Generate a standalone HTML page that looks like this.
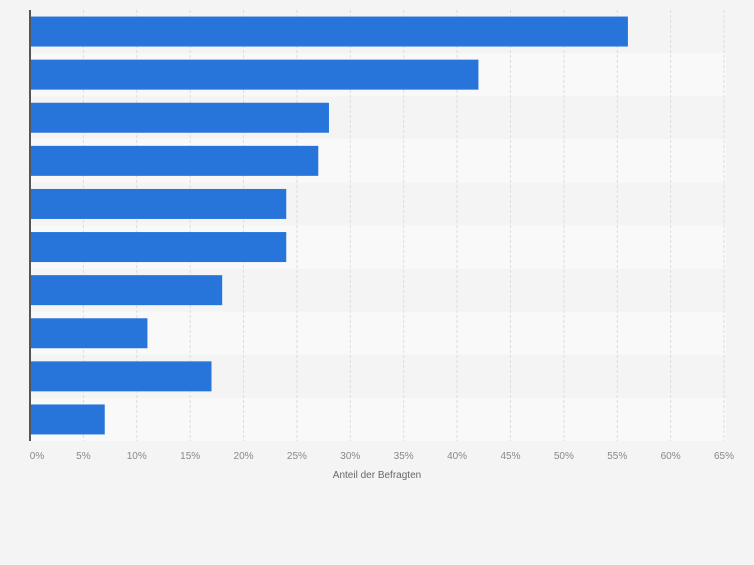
<!DOCTYPE html>
<html><head><meta charset="utf-8"><style>
body{margin:0;background:#f4f4f4;font-family:"Liberation Sans",sans-serif;}
</style></head><body>
<svg id="chart" width="754" height="560" xmlns="http://www.w3.org/2000/svg"></svg>
<script>
const categories=["c1","c2","c3","c4","c5","c6","c7","c8","c9","c10"];
const values=[56,42,28,27,24,24,18,11,17,7];
const ticks=[0,5,10,15,20,25,30,35,40,45,50,55,60,65];
const tickLabels=["0%","5%","10%","15%","20%","25%","30%","35%","40%","45%","50%","55%","60%","65%"];
const svg=document.getElementById('chart');
const NS="http://www.w3.org/2000/svg";
const x0=30,x1=724,plotTop=10,band=43.1,barH=30;
const xs=v=>x0+v/65*(x1-x0);
function mk(t,a,p){const e=document.createElementNS(NS,t);for(const k in a)e.setAttribute(k,a[k]);(p||svg).appendChild(e);return e;}
categories.forEach((c,i)=>{if(i%2==1){const r=mk('rect',{x:x0,y:plotTop+i*band,width:x1-x0+2,height:band,fill:'#f9f9f9'});

}});
ticks.forEach((t,i)=>{if(i>0){const l=mk('line',{x1:xs(t),x2:xs(t),y1:plotTop,y2:plotTop+band*10,stroke:'#dcdcdc','stroke-dasharray':'3,2'});

}
const tx=mk('text',{x:xs(t)+(i==0?7:0),y:459,'font-size':'10','fill':'#888','text-anchor':'middle'});tx.textContent=tickLabels[i];

});
values.forEach((v,i)=>{const r=mk('rect',{x:x0,y:plotTop+i*band+(band-barH)/2,width:xs(v)-x0,height:barH,fill:'#2775db'});

});
const ax=mk('line',{x1:x0,x2:x0,y1:plotTop,y2:plotTop+band*10,stroke:'#555','stroke-width':'2'});


const tt=mk('text',{x:377,y:478,'font-size':'10','fill':'#666','text-anchor':'middle'});tt.textContent="Anteil der Befragten";


</script>
</body></html>
